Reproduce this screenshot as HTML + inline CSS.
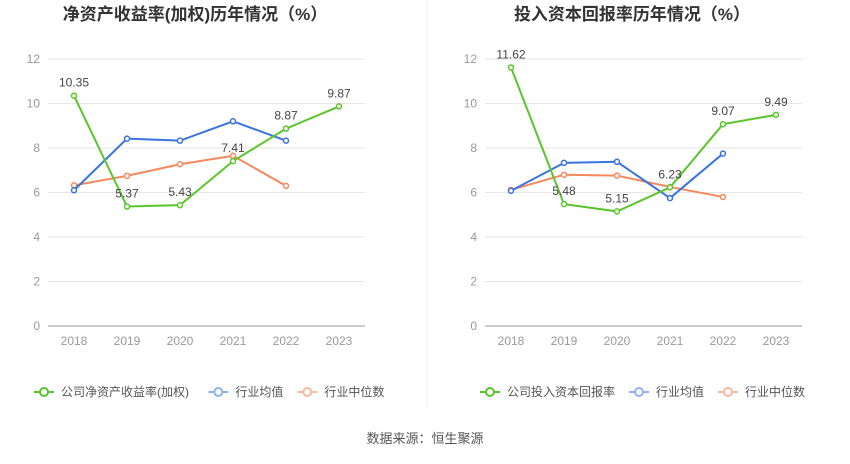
<!DOCTYPE html>
<html><head><meta charset="utf-8"><style>
body{margin:0;background:#fff;font-family:"Liberation Sans","Noto Sans CJK SC",sans-serif;}
svg text{font-family:"Liberation Sans","Noto Sans CJK SC",sans-serif;}
</style></head><body>
<svg id="c" width="850" height="459" xmlns="http://www.w3.org/2000/svg">
<line x1="427" y1="0" x2="427" y2="408" stroke="#eee"/>
<text x="425" y="443" text-anchor="middle" font-size="13" fill="#555">数据来源：恒生聚源</text>
</svg>
<script>
const years=["2018","2019","2020","2021","2022","2023"];
const yTicks=[0,2,4,6,8,10,12];
const roeCompany=[10.35,5.37,5.43,7.41,8.87,9.87];
const roeAvg=[6.1,8.42,8.33,9.2,8.33];
const roeMedian=[6.32,6.75,7.27,7.65,6.3];
const roicCompany=[11.62,5.48,5.15,6.23,9.07,9.49];
const roicAvg=[6.08,7.33,7.38,5.75,7.75];
const roicMedian=[6.12,6.8,6.76,6.25,5.8];
const svg=document.getElementById('c');
const NS="http://www.w3.org/2000/svg";
function mk(tag,attrs,parent){const e=document.createElementNS(NS,tag);for(const k in attrs)e.setAttribute(k,attrs[k]);(parent||svg).appendChild(e);return e;}
function tw(s){let w=0;for(const ch of s)w+=/[\u0000-\u00ff]/.test(ch)?6.7:12;return w;}
function chart(x0,title,company,avg,median,legendName,prefix,legStart){
  const g=mk('g',{});
  
  
  const left=x0+48,right=x0+365,top=59,bot=326;
  const xs=i=>left+26+i*53;
  const ys=v=>bot-(v/12)*(bot-top);
  const t=mk('text',{x:x0+195,y:20,'text-anchor':'middle','font-size':17,'font-weight':'bold',fill:'#333'},g);
  t.textContent=title;
  
  
  yTicks.forEach(v=>{
    const l=mk('line',{x1:left,x2:right,y1:ys(v),y2:ys(v),stroke:v===0?'#999':'#e6e6e6'},g);
    
    
    const tx=mk('text',{x:left-8,y:ys(v)+4,'text-anchor':'end','font-size':12,fill:'#999'},g);
    tx.textContent=v;
    
    
  });
  years.forEach((y,i)=>{
    const tx=mk('text',{x:xs(i),y:bot+19,'text-anchor':'middle','font-size':12,fill:'#999'},g);
    tx.textContent=y;
    
    
  });
  function series(vals,color,name,labels){
    const p=mk('polyline',{points:vals.map((v,i)=>xs(i)+','+ys(v)).join(' '),fill:'none',stroke:color,'stroke-width':2},g);
    
    
    vals.forEach((v,i)=>{
      const c=mk('circle',{cx:xs(i),cy:ys(v),r:2.5,fill:'#fff',stroke:color,'stroke-width':1.5},g);
      
      
      if(labels){
        const tx=mk('text',{x:xs(i),y:ys(v)-9,'text-anchor':'middle','font-size':12,fill:'#444'},g);
        tx.textContent=v.toFixed(2);
        
        
      }
    });
  }
  series(median,'#f5895d','industry-median',false);
  series(avg,'#3a74e0','industry-average',false);
  series(company,'#5ac52b','company',true);
  const items=[[legendName,'#5ac52b'],['行业均值','#92b2ee'],['行业中位数','#f8b89e']];
  let lx=x0+legStart;
  items.forEach(([n,col])=>{
    const lg=mk('g',{},g);
    
    
    mk('line',{x1:lx,x2:lx+20,y1:392,y2:392,stroke:col,'stroke-width':2},lg);
    mk('circle',{cx:lx+10,cy:392,r:4,fill:'#fff',stroke:col,'stroke-width':2},lg);
    const tx=mk('text',{x:lx+27,y:396,'font-size':12,fill:'#555'},lg);
    tx.textContent=n;
    lx+=27+tw(n)+14;
  });
}
chart(0,'净资产收益率(加权)历年情况（%）',roeCompany,roeAvg,roeMedian,'公司净资产收益率(加权)','roe',34);
chart(437,'投入资本回报率历年情况（%）',roicCompany,roicAvg,roicMedian,'公司投入资本回报率','roic',43);
</script>
</body></html>
